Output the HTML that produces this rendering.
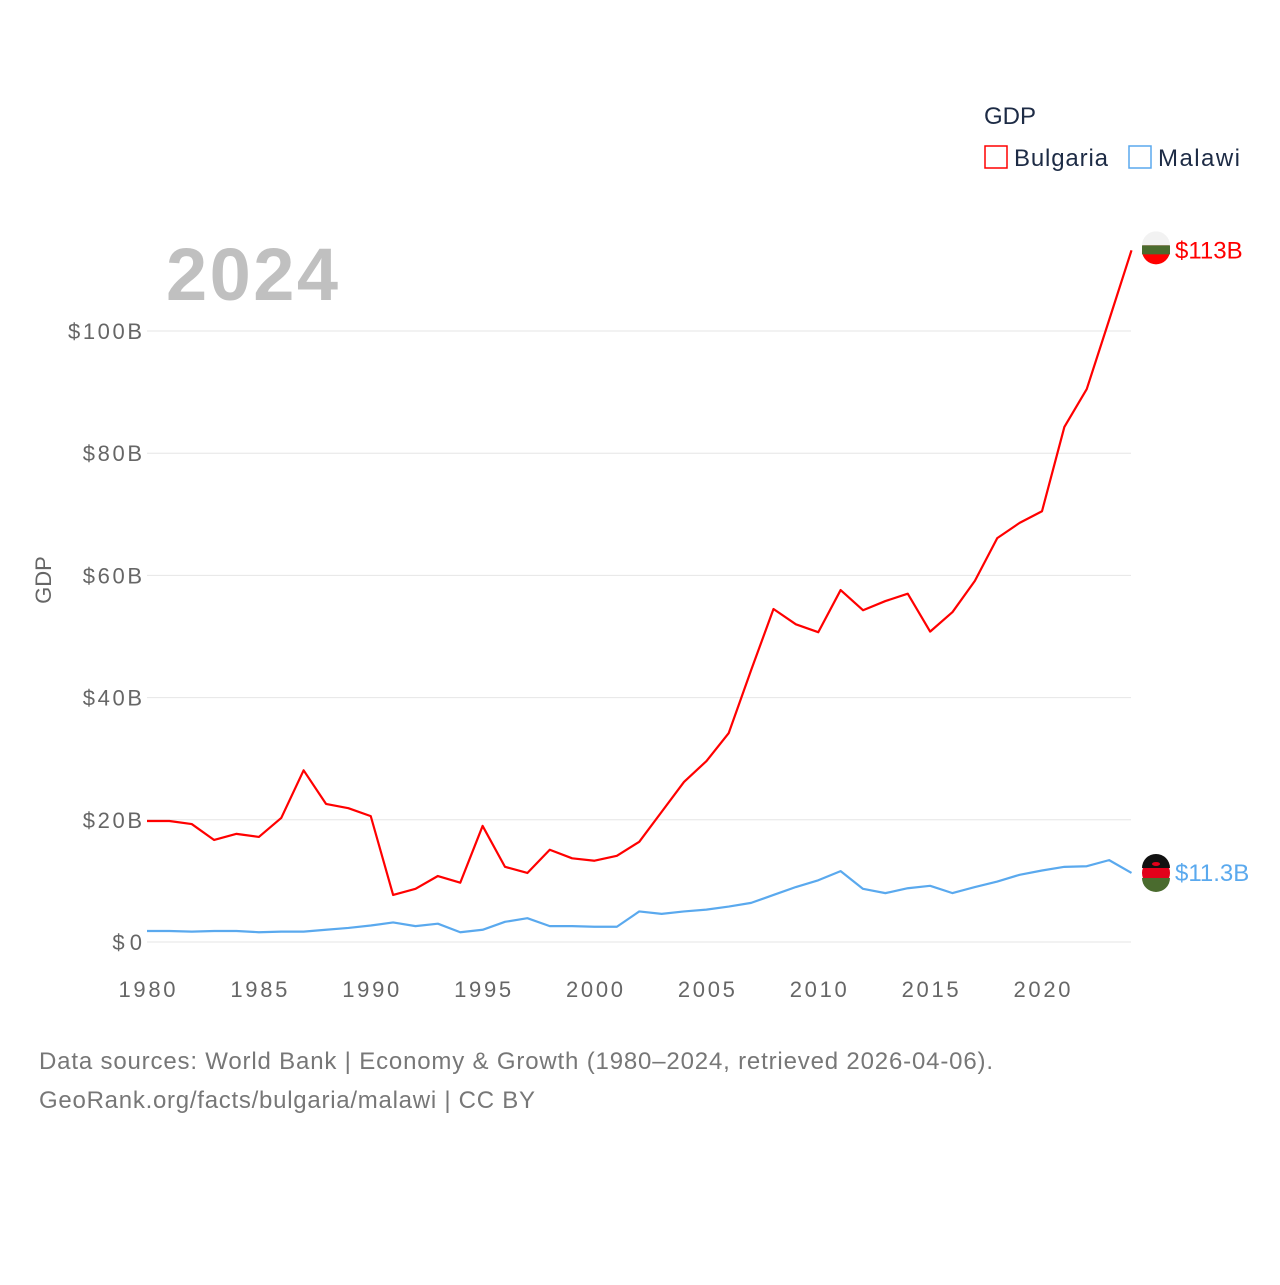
<!DOCTYPE html>
<html><head><meta charset="utf-8"><style>
body{margin:0;background:#fff;width:1280px;height:1280px;overflow:hidden;font-family:"Liberation Sans",sans-serif}
</style></head><body>
<svg id="chart" width="1280" height="1280" xmlns="http://www.w3.org/2000/svg">
<text x="984" y="124" font-size="24" fill="#1d2b45">GDP</text>
<g><rect x="985" y="146" width="22" height="22" fill="none" stroke="#ff0000" stroke-width="1.5"/><text x="1014" y="166" font-size="24" fill="#1d2b45" textLength="94">Bulgaria</text></g>
<g><rect x="1129" y="146" width="22" height="22" fill="none" stroke="#5aa9ee" stroke-width="1.5"/><text x="1158" y="166" font-size="24" fill="#1d2b45" textLength="82">Malawi</text></g>
<text x="166" y="300" font-size="74" font-weight="bold" fill="#c0c0c0" textLength="172">2024</text>
<text transform="translate(51,580) rotate(-90)" text-anchor="middle" font-size="22" fill="#666">GDP</text>
<g id="grid"></g><g id="xt"></g><g id="lines"></g>
<text x="39" y="1069" font-size="24" fill="#777" textLength="954">Data sources: World Bank | Economy &amp; Growth (1980–2024, retrieved 2026-04-06).</text>
<text x="39" y="1108" font-size="24" fill="#777" textLength="496">GeoRank.org/facts/bulgaria/malawi | CC BY</text>
</svg>
<script>
const years=[];for(let y=1980;y<=2024;y++)years.push(y);
const bulgaria=[19.8,19.8,19.3,16.7,17.7,17.2,20.3,28.1,22.6,21.9,20.6,7.7,8.7,10.8,9.7,19.0,12.3,11.3,15.1,13.7,13.3,14.1,16.4,21.3,26.2,29.6,34.2,44.5,54.5,52.0,50.7,57.6,54.3,55.8,57.0,50.8,54.0,59.1,66.1,68.6,70.5,84.3,90.5,101.8,113.2];
const malawi=[1.8,1.8,1.7,1.8,1.8,1.6,1.7,1.7,2.0,2.3,2.7,3.2,2.6,3.0,1.6,2.0,3.3,3.9,2.6,2.6,2.5,2.5,5.0,4.6,5.0,5.3,5.8,6.4,7.7,9.0,10.1,11.6,8.7,8.0,8.8,9.2,8.0,9.0,9.9,11.0,11.7,12.3,12.4,13.4,11.3];
const yTicks=[0,20,40,60,80,100];
const yTickLabels=["$0","$20B","$40B","$60B","$80B","$100B"];
const xTicks=[1980,1985,1990,1995,2000,2005,2010,2015,2020];
const NS="http://www.w3.org/2000/svg";
const X=v=>147+(v-1980)*(1042-147)/40;
const Y=v=>942-v*6.11;
function mk(t,a,p){const e=document.createElementNS(NS,t);for(const k in a)e.setAttribute(k,a[k]);p.appendChild(e);return e;}
const grid=document.getElementById('grid');
yTicks.forEach((v,i)=>{
 const l=mk('line',{x1:147,x2:1131,y1:Y(v),y2:Y(v),stroke:'#e6e6e6','stroke-width':1},grid);
 
 
 const lab=yTickLabels[i];
 const t=mk('text',{x:142,y:Y(v)+8,'text-anchor':'end','font-size':22,fill:'#666',textLength:lab.length*14.8},grid);
 t.textContent=lab;
 
 
});
const xt=document.getElementById('xt');
xTicks.forEach(v=>{
 const t=mk('text',{x:X(v),y:997,'text-anchor':'middle','font-size':22,fill:'#666',textLength:57},xt);
 t.textContent=v;
 
 
});
const lines=document.getElementById('lines');
function series(vals,color,name,label){
 const p=mk('polyline',{points:vals.map((v,i)=>X(years[i])+','+Y(v)).join(' '),fill:'none',stroke:color,'stroke-width':2.2,'stroke-linejoin':'round'},lines);
 
 
 const last=vals[vals.length-1],ly=Y(last);
 const c=mk('circle',{cx:1156,cy:ly,r:14,fill:name==='malawi'?'#e2001a':color},lines);
 
 
 const t=mk('text',{x:1175,y:ly+8,'font-size':24,fill:color},lines);
 t.textContent=label;
 
 
 return ly;
}
const by=series(bulgaria,'#ff0000','bulgaria','$113B');
const my=series(malawi,'#5aa9ee','malawi','$11.3B');
mk('path',{d:`M1142,${by-5}A14,14 0 0,1 1170,${by-5}Z`,fill:'#f2f2f2'},lines);
mk('rect',{x:1142,y:by-5,width:28,height:9,fill:'#4a6b2e'},lines);
mk('path',{d:`M1142,${my+5}A14,14 0 0,0 1170,${my+5}Z`,fill:'#4a6b2e'},lines);
mk('path',{d:`M1142,${my-5}A14,14 0 0,1 1170,${my-5}Z`,fill:'#111'},lines);
mk('ellipse',{cx:1156,cy:my-9,rx:4,ry:2,fill:'#e2001a'},lines);
</script>
</body></html>
